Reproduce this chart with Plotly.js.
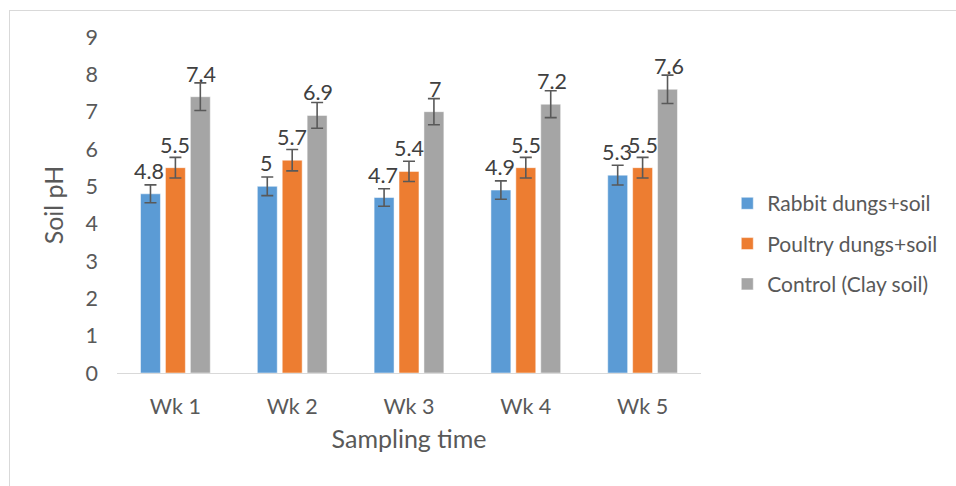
<!DOCTYPE html>
<html>
<head>
<meta charset="utf-8">
<script src="https://cdn.plot.ly/plotly-3.0.1.min.js"></script>
<style>
  html, body { margin: 0; padding: 0; background: #ffffff; }
  #chart { width: 956px; height: 486px; }
  #frame { position: absolute; left: 9px; top: 10px; width: 947px; height: 476px;
           border-top: 1px solid #d9d9d9; border-left: 1px solid #d9d9d9; pointer-events: none; }
</style>
</head>
<body>
<div id="chart"></div>
<div id="frame"></div>
<script>
const categories = ["Wk 1", "Wk 2", "Wk 3", "Wk 4", "Wk 5"];
const seriesNames = ["Rabbit dungs+soil", "Poultry dungs+soil", "Control (Clay soil)"];
const rabbit = [4.8, 5.0, 4.7, 4.9, 5.3];
const poultry = [5.5, 5.7, 5.4, 5.5, 5.5];
const control = [7.4, 6.9, 7.0, 7.2, 7.6];
const rabbitErr = [0.24, 0.25, 0.235, 0.245, 0.265];
const poultryErr = [0.275, 0.285, 0.27, 0.275, 0.275];
const controlErr = [0.37, 0.345, 0.35, 0.36, 0.38];
const colors = ["#5b9bd5", "#ed7d31", "#a5a5a5"];
const yTicks = [0, 1, 2, 3, 4, 5, 6, 7, 8, 9];

const FONT = "Lato, 'Open Sans', sans-serif";
const values = [rabbit, poultry, control];
const errs = [rabbitErr, poultryErr, controlErr];

const traces = values.map((v, i) => ({
  type: "bar",
  name: seriesNames[i],
  x: categories,
  y: v,
  legendgroup: "g" + i,
  marker: { color: colors[i], line: { color: "#ffffff", width: 0.5 } },
  error_y: { type: "data", array: errs[i], visible: true, color: "#595959", thickness: 1.6, width: 6 },
  hoverinfo: "skip"
}));

// data labels above bars (Excel-style), offset horizontally to each bar's slot
const annotations = [];
const xshifts = [-26, 0, 26];
values.forEach((v, i) => {
  v.forEach((val, j) => {
    annotations.push({
      x: categories[j], y: val, xref: "x", yref: "y",
      text: String(val), showarrow: false,
      xanchor: "center", yanchor: "middle",
      xshift: xshifts[i], yshift: 23,
      font: { family: FONT, size: 21.5, color: "#404040" }
    });
  });
});

const layout = {
  width: 956, height: 486,
  margin: { l: 117, r: 255, t: 37, b: 113 },
  paper_bgcolor: "#ffffff", plot_bgcolor: "#ffffff",
  barmode: "group",
  bargap: 0.36,
  bargroupgap: 0.2,
  font: { family: FONT, color: "#595959" },
  xaxis: {
    type: "category",
    showgrid: false,
    showline: true, linecolor: "#d9d9d9", linewidth: 1,
    ticks: "", tickfont: { family: FONT, size: 21.5, color: "#595959" },
    ticklabelstandoff: 14,
    title: { text: "Sampling time", font: { family: FONT, size: 25, color: "#595959" }, standoff: 12 }
  },
  yaxis: {
    range: [0, 9],
    tickvals: yTicks,
    showgrid: false, zeroline: false, showline: false,
    ticks: "", tickfont: { family: FONT, size: 21.5, color: "#595959" },
    ticklabelstandoff: 18,
    title: { text: "Soil pH", font: { family: FONT, size: 25, color: "#595959" }, standoff: 14 }
  },
  legend: {
    x: 1.045, y: 0.385, xanchor: "left", yanchor: "middle",
    font: { family: FONT, size: 21, color: "#595959" },
    tracegroupgap: 10,
    itemwidth: 30,
    traceorder: "grouped",
    bgcolor: "rgba(0,0,0,0)"
  },
  annotations: annotations,
  showlegend: true
};

Plotly.newPlot("chart", traces, layout, { displayModeBar: false, staticPlot: true });
</script>
</body>
</html>
